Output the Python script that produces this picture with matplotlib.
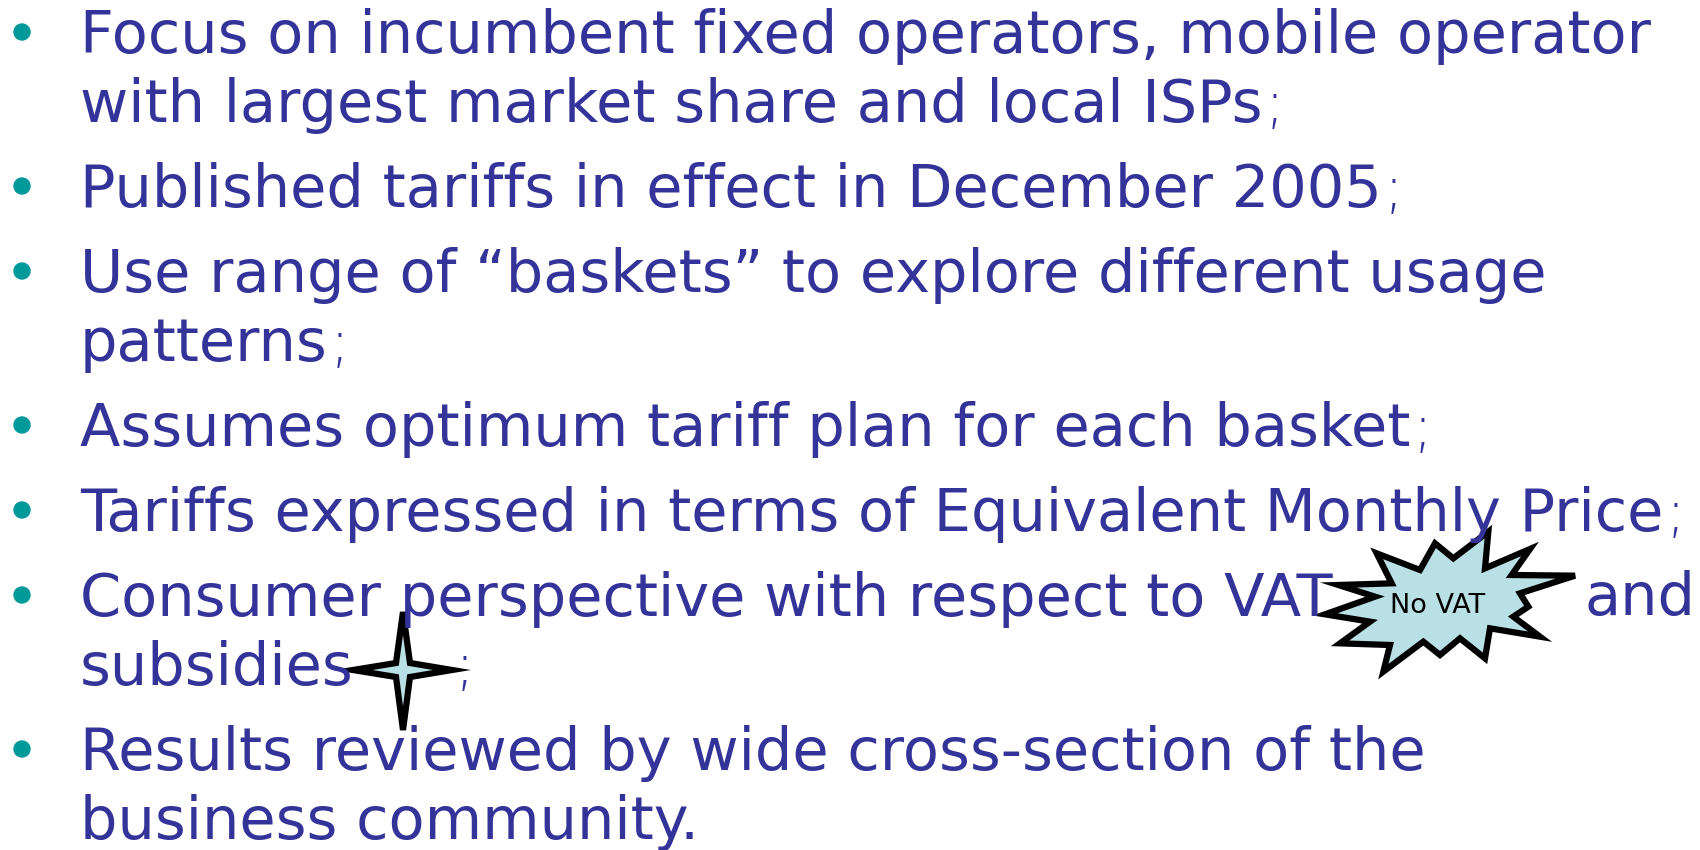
import matplotlib
matplotlib.use("Agg")
import matplotlib.pyplot as plt
from matplotlib.patches import Polygon, Circle

# slide text, one list per bullet (wrapped lines)
bullets = [
    ["Focus on incumbent fixed operators, mobile operator",
     "with largest market share and local ISPs;"],
    ["Published tariffs in effect in December 2005;"],
    ["Use range of \u201cbaskets\u201d to explore different usage",
     "patterns;"],
    ["Assumes optimum tariff plan for each basket;"],
    ["Tariffs expressed in terms of Equivalent Monthly Price;"],
    ["Consumer perspective with respect to VAT", "subsidies"],
    ["Results reviewed by wide cross-section of the",
     "business community."],
]
burst_label = "No VAT"

TEXT_COLOR = "#333399"
BULLET_COLOR = "#009999"
SHAPE_FILL = "#b9e0e4"

W, H = 1700, 850
fig = plt.figure(figsize=(W / 100, H / 100), dpi=100)
ax = fig.add_axes([0, 0, 1, 1])
ax.set_xlim(0, W)
ax.set_ylim(H, 0)
ax.axis("off")
renderer = fig.canvas.get_renderer()

FS = 42.5
style = dict(fontsize=FS, color=TEXT_COLOR, family="DejaVu Sans",
             va="baseline", ha="left")


def semicolon_after(t, y):
    # the slide draws the semicolons in a thin face
    bb = t.get_window_extent(renderer=renderer)
    x_end = ax.transData.inverted().transform((bb.x1, 0))[0]
    ax.text(x_end + 2, y, ";", fontweight="light", **style)


x_text = 80
y = 53
for lines in bullets:
    ax.add_patch(Circle((22, y - 21), 8, color=BULLET_COLOR))
    for ln in lines:
        if ln.endswith(";"):
            t = ax.text(x_text, y, ln[:-1], **style)
            semicolon_after(t, y)
        else:
            ax.text(x_text, y, ln, **style)
        y += 69
    y += 85 - 69

# pieces after the shapes
ax.text(1585, 615, "and", **style)
ax.text(455, 684, ";", fontweight="light", **style)

# "No VAT" starburst (traced outline)
burst = [(505, 20), (495, 130), (630, 72), (575, 150), (765, 152),
         (600, 205), (625, 245), (580, 275), (660, 335), (510, 310),
         (495, 400), (420, 340), (360, 390), (310, 350), (190, 440),
         (210, 360), (60, 355), (150, 290), (15, 268), (165, 215),
         (55, 180), (215, 175), (170, 85), (300, 135), (345, 55),
         (400, 100)]
burst = [(1320 + bx / 3, 525 + by / 3) for bx, by in burst]
ax.add_patch(Polygon(burst, closed=True, facecolor=SHAPE_FILL,
                     edgecolor="black", linewidth=4.5, joinstyle="miter"))
ax.text(1438, 606, burst_label, fontsize=19.5, color="black",
        family="DejaVu Sans", va="center", ha="center")

# four point star
cx, cy = 403, 670
star = [(cx, cy - 58), (cx + 7, cy - 7), (cx + 49, cy), (cx + 7, cy + 7),
        (cx, cy + 60), (cx - 7, cy + 7), (cx - 50, cy), (cx - 7, cy - 7)]
ax.add_patch(Polygon(star, closed=True, facecolor=SHAPE_FILL,
                     edgecolor="black", linewidth=4.5, joinstyle="miter"))

fig.savefig("out.png", dpi=100)
